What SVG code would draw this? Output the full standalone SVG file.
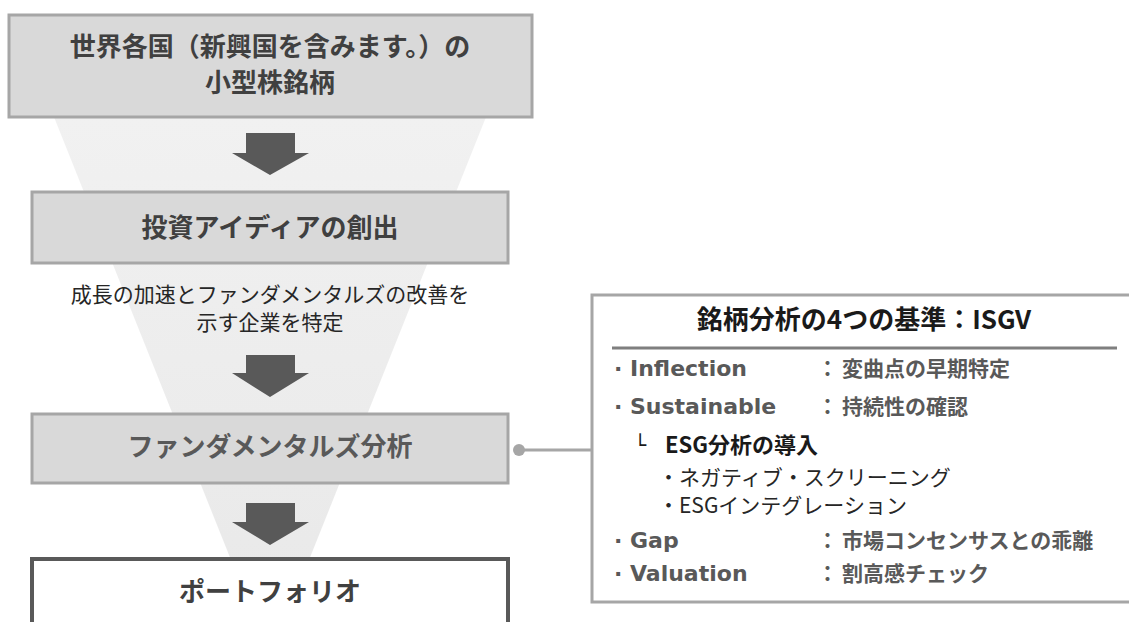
<svg xmlns="http://www.w3.org/2000/svg" width="1129" height="622" viewBox="0 0 1129 622">
<defs>
<style>
.jp{font-family:"Noto Sans CJK JP","Noto Sans",sans-serif;}
.lat{font-family:"DejaVu Sans","Noto Sans CJK JP",sans-serif;}
.step{fill:#d9d9d9;stroke:#a6a6a6;stroke-width:3;}
.steptxt{font-size:26px;font-weight:bold;fill:#404040;text-anchor:middle;}
.arrow{fill:#595959;}
.row{font-size:22px;font-weight:bold;fill:#595959;}
.rowjp{font-size:21px;font-weight:bold;fill:#595959;}
.sub{font-size:21px;fill:#262626;}
</style>
<linearGradient id="fun" x1="0" y1="0" x2="0" y2="1">
<stop offset="0" stop-color="#f1f1f1"/>
<stop offset="1" stop-color="#e9e9e9"/>
</linearGradient>
</defs>
<rect width="1129" height="622" fill="#ffffff"/>
<polygon points="54,117 486,117 293,600 247,600" fill="url(#fun)"/>

<g id="arrows">
<polygon class="arrow" points="246,133 295,133 295,153 309,153 270,175 232,153 246,153"/>
<polygon class="arrow" points="246,355 295,355 295,373 309,373 270,397 232,373 246,373"/>
<polygon class="arrow" points="246,503 295,503 295,522 309,522 270,545 232,522 246,522"/>
</g>

<g id="node-universe">
<rect class="step" x="9" y="15" width="523" height="102"/>
<text class="jp steptxt" x="270" y="56">世界各国（新興国を含みます。）の</text>
<text class="jp steptxt" x="270" y="92">小型株銘柄</text>
</g>

<g id="node-idea">
<rect class="step" x="32" y="192" width="476" height="71"/>
<text class="jp steptxt" x="270" y="237">投資アイディアの創出</text>
</g>

<g id="caption">
<text class="jp" x="270" y="302" font-size="21" fill="#262626" text-anchor="middle">成長の加速とファンダメンタルズの改善を</text>
<text class="jp" x="270" y="330" font-size="21" fill="#262626" text-anchor="middle">示す企業を特定</text>
</g>

<g id="node-fundamental">
<rect class="step" x="32" y="414" width="476" height="69"/>
<text class="jp steptxt" x="270" y="456" style="fill:#595959">ファンダメンタルズ分析</text>
</g>

<g id="node-portfolio">
<rect x="32" y="559" width="476" height="80" fill="#ffffff" stroke="#595959" stroke-width="4"/>
<text class="jp steptxt" x="270" y="601">ポートフォリオ</text>
</g>

<g id="connectors">
<line x1="519" y1="450" x2="592" y2="450" stroke="#a6a6a6" stroke-width="3"/>
<circle cx="519" cy="450" r="6" fill="#a6a6a6"/>
</g>

<g id="node-isgv">
<rect x="592" y="295" width="545" height="307" fill="#ffffff" stroke="#a6a6a6" stroke-width="3"/>
<text class="jp" x="864" y="329" font-size="26" font-weight="bold" fill="#1a1a1a" text-anchor="middle">銘柄分析の4つの基準：ISGV</text>
<line x1="612" y1="348" x2="1117" y2="348" stroke="#7f7f7f" stroke-width="3"/>

<text class="lat row" y="376"><tspan x="614">·</tspan><tspan x="630">Inflection</tspan></text>
<text class="jp rowjp" y="376"><tspan x="817">：</tspan><tspan x="842">変曲点の早期特定</tspan></text>

<text class="lat row" y="414"><tspan x="614">·</tspan><tspan x="630">Sustainable</tspan></text>
<text class="jp rowjp" y="414"><tspan x="817">：</tspan><tspan x="842">持続性の確認</tspan></text>

<text class="lat" y="452" font-size="20" fill="#1a1a1a"><tspan x="634">└</tspan></text>
<text class="jp" x="665" y="453" font-size="22" font-weight="bold" fill="#1a1a1a">ESG分析の導入</text>
<text class="jp sub" x="658" y="485">・ネガティブ・スクリーニング</text>
<text class="jp sub" x="658" y="513">・ESGインテグレーション</text>

<text class="lat row" y="548"><tspan x="614">·</tspan><tspan x="630">Gap</tspan></text>
<text class="jp rowjp" y="548"><tspan x="817">：</tspan><tspan x="842">市場コンセンサスとの乖離</tspan></text>

<text class="lat row" y="581"><tspan x="614">·</tspan><tspan x="630">Valuation</tspan></text>
<text class="jp rowjp" y="581"><tspan x="817">：</tspan><tspan x="842">割高感チェック</tspan></text>
</g>
</svg>
